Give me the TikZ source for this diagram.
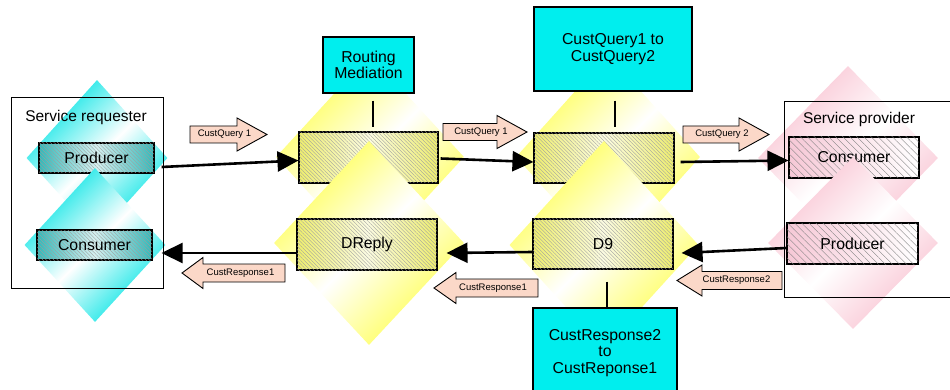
\documentclass[tikz,border=0pt]{standalone}
\usepackage{fontspec}
\setmainfont{Liberation Sans}
\usetikzlibrary{shapes.geometric,arrows.meta,patterns.meta}
\definecolor{cyanbox}{RGB}{0,238,238}
\definecolor{cyandia}{RGB}{0,228,228}
\definecolor{yeldia}{RGB}{255,255,80}
\definecolor{pinkdia}{RGB}{249,195,210}
\definecolor{tealh}{RGB}{50,185,185}
\definecolor{yelh}{RGB}{238,238,110}
\definecolor{pinkh}{RGB}{246,200,214}
\definecolor{salmonb}{RGB}{251,216,200}
\newcommand\blockR[6]{% name, x1, x2, yc, headlen, text
  \draw[blk] (#2,#4-8.5) -- (#3-#5,#4-8.5) -- (#3-#5,#4-16.5) -- (#3,#4) -- (#3-#5,#4+16.5) -- (#3-#5,#4+8.5) -- (#2,#4+8.5) -- cycle;
  \node[small] (#1) at ({(#2+#3)/2-4},#4) {#6};}
\newcommand\blockL[6]{% name, x1(tip), x2, yc, headlen, text
  \draw[blk] (#3,#4-9) -- (#2+#5,#4-9) -- (#2+#5,#4-15.5) -- (#2,#4) -- (#2+#5,#4+15.5) -- (#2+#5,#4+9) -- (#3,#4+9) -- cycle;
  \node[small] (#1) at ({(#2+#3)/2+7},#4) {#6};}
\begin{document}
\begin{tikzpicture}[x=1pt,y=-1pt,
  big/.style={font=\fontsize{15.8}{17.5}\selectfont},
  small/.style={font=\fontsize{9.5}{11}\selectfont},
  dia/.style={diamond, inner sep=0pt, top color=#1, bottom color=#1, middle color=white, shading angle=45},
  hbox/.style={draw=black, line width=1.1pt, inner sep=0pt, big,
    left color=#1, right color=#1, middle color=white!80!#1,
    postaction={pattern={Lines[angle=-45,distance=2.6pt,line width=0.35pt]}, pattern color=black!38}},
  pbox/.style={draw=black, line width=1.1pt, inner sep=0pt, big,
    left color=pinkh, right color=white, middle color=pinkh!50,
    postaction={pattern={Lines[angle=-45,distance=5pt,line width=0.35pt]}, pattern color=black!50}},
  cbox/.style={draw=black, line width=1.1pt, fill=cyanbox, inner sep=0pt, big, align=center},
  frame/.style={draw=black, line width=0.9pt, inner sep=0pt},
  conn/.style={line width=2.6pt, -{Triangle[length=21pt,width=20pt]}},
  vline/.style={line width=2pt},
  blk/.style={draw=black, line width=0.9pt, fill=salmonb, line join=miter}
]
\useasboundingbox (0,0) rectangle (950,390);
% upper diamonds
\node[dia=cyandia, minimum width=141, minimum height=156] (cd1) at (97,158) {};
\node[dia=yeldia, minimum width=188, minimum height=205] (yd1) at (370,157) {};
\node[dia=yeldia, minimum width=184, minimum height=205] (yd3) at (608,157) {};
\node[dia=pinkdia, minimum width=180, minimum height=184] (pd1) at (848,158) {};
% upper boxes
\node[hbox=tealh, minimum width=115, minimum height=30] (prodL) at (96.5,158) {Producer};
\node[hbox=yelh, minimum width=139, minimum height=51] (up1) at (368.5,157.5) {};
\node[hbox=yelh, minimum width=140, minimum height=50] (up2) at (604,158) {};
\node[pbox, minimum width=130, minimum height=41] (consR) at (854,157.5) {Consumer};
% lower diamonds
\node[dia=cyandia, minimum width=141, minimum height=154] (cd2) at (95,245) {};
\node[dia=yeldia, minimum width=190, minimum height=204] (yd2) at (369,243) {};
\node[dia=yeldia, minimum width=189, minimum height=208] (yd4) at (604,245) {};
\node[dia=pinkdia, minimum width=170, minimum height=172] (pd2) at (853,243) {};
% lower boxes
\node[hbox=tealh, minimum width=115, minimum height=30] (consL) at (94.5,245) {Consumer};
\node[hbox=yelh, minimum width=140, minimum height=51] (dreply) at (367,244.5) {DReply};
\node[hbox=yelh, minimum width=140, minimum height=50] (d9) at (603,244) {D9};
\node[pbox, minimum width=131, minimum height=41] (prodR) at (852.5,243.5) {Producer};
% containers
\node[frame, minimum width=152, minimum height=191] (req) at (87,192.5) {};
\node[font=\fontsize{15.5}{17}\selectfont] (reqlbl) at (86,117) {Service requester};
\node[frame, minimum width=176, minimum height=196] (prov) at (872,199) {};
\node[font=\fontsize{15.5}{17}\selectfont] (provlbl) at (859,119) {Service provider};
% mediation boxes
\node[cbox, minimum width=91, minimum height=56] (rm) at (368.5,65) {Routing\\[-1pt]Mediation};
\node[cbox, minimum width=158, minimum height=84] (cq) at (613,49) {CustQuery1 to\\[-1pt]CustQuery2};
\node[cbox, minimum width=144, minimum height=90] (cr) at (605,353) {CustResponse2\\[-1pt]to\\[-1pt]CustReponse1};
% vertical links
\draw[vline] ([xshift=4.5pt,yshift=-7pt]rm.south) -- ([xshift=4.5pt,yshift=4pt]up1.north);
\draw[vline] ([xshift=2pt,yshift=-9pt]cq.south) -- ([xshift=11pt,yshift=5pt]up2.north);
\draw[vline] ([xshift=4pt,yshift=-12pt]d9.south) -- ([xshift=2pt]cr.north);
% connectors
\draw[conn] ([xshift=7pt,yshift=-9pt]prodL.east) -- ([yshift=-3pt]up1.west);
\draw[conn] ([xshift=2pt,yshift=-1pt]up1.east) -- ([yshift=-4pt]up2.west);
\draw[conn] ([xshift=6pt,yshift=-4pt]up2.east) -- ([yshift=-3pt]consR.west);
\draw[conn] ([yshift=-8pt]d9.west) -- ([xshift=9pt,yshift=-8.5pt]dreply.east);
\draw[conn] ([yshift=-8.5pt]dreply.west) -- ([xshift=9pt,yshift=-8pt]consL.east);
\draw[conn] ([yshift=-4.5pt]prodR.west) -- ([xshift=8pt,yshift=-9pt]d9.east);
% message labels
\blockR{q1}{190}{267}{134.5}{30}{CustQuery 1}
\blockR{q2}{443}{527}{132}{30}{CustQuery 1}
\blockR{q3}{683}{769}{134.5}{30}{CustQuery 2}
\blockL{r1}{182}{285}{273}{21}{CustResponse1}
\blockL{r2}{434}{538}{288}{22}{CustResponse1}
\blockL{r3}{677}{782}{280.5}{25}{CustResponse2}
\end{tikzpicture}
\end{document}
